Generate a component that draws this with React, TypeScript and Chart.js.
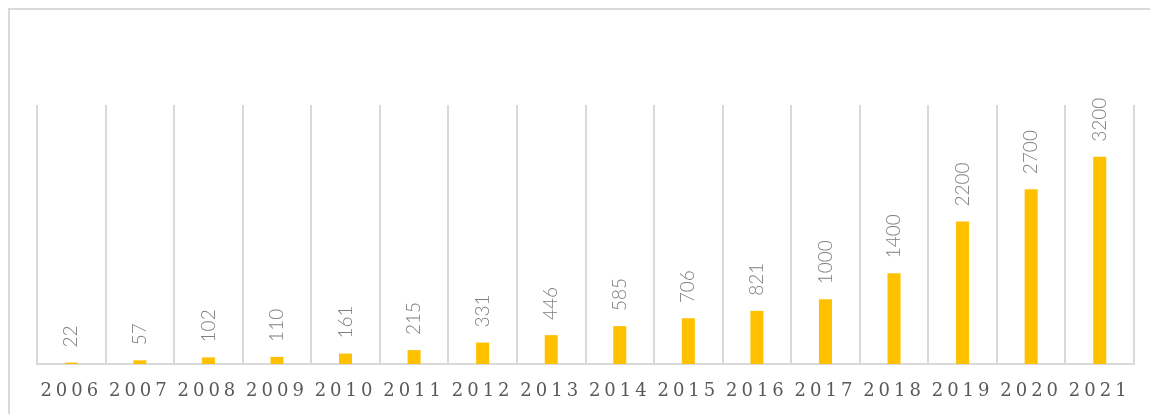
import React, { useEffect, useRef } from "react";
import { Chart, registerables } from "chart.js";

Chart.register(...registerables);

const years = ["2006","2007","2008","2009","2010","2011","2012","2013","2014","2015","2016","2017","2018","2019","2020","2021"];
const values = [22, 57, 102, 110, 161, 215, 331, 446, 585, 706, 821, 1000, 1400, 2200, 2700, 3200];
const yMax = 4000;

const decorPlugin = {
  id: "decor",
  beforeDraw(chart: any) {
    const ctx = chart.ctx;
    ctx.save();
    ctx.strokeStyle = "#d9d9d9";
    ctx.lineWidth = 2;
    ctx.beginPath();
    ctx.moveTo(1, chart.height + 5);
    ctx.lineTo(1, 1);
    ctx.lineTo(chart.width + 5, 1);
    ctx.stroke();
    ctx.restore();
  },
  afterDatasetsDraw(chart: any) {
    const ctx = chart.ctx;
    const meta = chart.getDatasetMeta(0);
    const data = chart.data.datasets[0].data as number[];
    ctx.save();
    ctx.fillStyle = "#7f7f7f";
    ctx.font = "300 19px Lato";
    ctx.textAlign = "left";
    ctx.textBaseline = "middle";
    meta.data.forEach((el: any, i: number) => {
      ctx.save();
      ctx.translate(el.x, el.y - 15);
      ctx.rotate(-Math.PI / 2);
      ctx.fillText(String(data[i]), 0, 0);
      ctx.restore();
    });
    // x labels
    const xs = chart.scales.x;
    ctx.fillStyle = "#595959";
    ctx.font = "18px 'DejaVu Serif'";
    (ctx as any).letterSpacing = "4px";
    ctx.textAlign = "center";
    ctx.textBaseline = "middle";
    chart.data.labels.forEach((lab: string, i: number) => {
      ctx.fillText(lab, xs.getPixelForTick(i), chart.chartArea.bottom + 27);
    });
    ctx.restore();
  },
};

export default function App() {
  const ref = useRef<HTMLCanvasElement>(null);
  useEffect(() => {
    const chart = new Chart(ref.current as HTMLCanvasElement, {
      type: "bar",
      data: {
        labels: years,
        datasets: [
          {
            data: values,
            backgroundColor: "#FFC000",
            barPercentage: 0.19,
            categoryPercentage: 1,
          },
        ],
      },
      options: {
        animation: false,
        responsive: true,
        maintainAspectRatio: false,
        layout: { padding: { left: 29, right: 16, top: 97, bottom: 0 } },
        plugins: { legend: { display: false }, tooltip: { enabled: false } },
        scales: {
          x: {
            offset: true,
            grid: { offset: true, color: "#d9d9d9", lineWidth: 2, drawTicks: false },
            border: { display: true, color: "#d9d9d9", width: 2 },
            ticks: { display: false },
            afterFit: (s: any) => { s.height = 50; },
          },
          y: { display: false, min: 0, max: yMax },
        },
      },
      plugins: [decorPlugin],
    });
    return () => chart.destroy();
  }, []);
  return (
    <div style={{ position: "fixed", left: 8, top: 8, width: 1142, height: 406, background: "#fff" }}>
      <canvas ref={ref} />
    </div>
  );
}
